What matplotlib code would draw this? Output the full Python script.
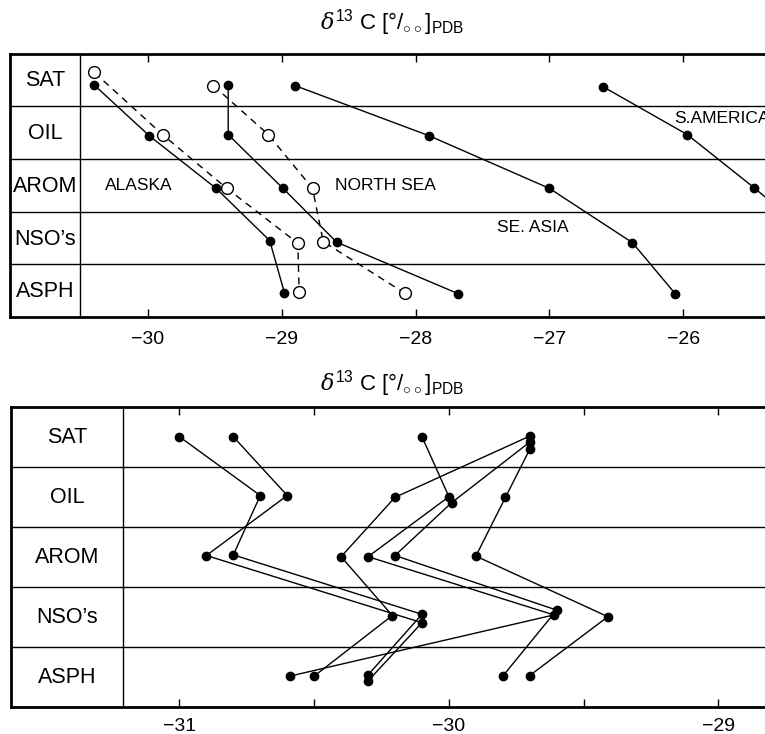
import matplotlib
matplotlib.use("Agg")
import matplotlib.pyplot as plt

plt.rcParams['font.family'] = ['Liberation Sans', 'DejaVu Sans']
plt.rcParams['mathtext.fontset'] = 'custom'
plt.rcParams['mathtext.rm'] = 'Liberation Sans'
plt.rcParams['mathtext.sf'] = 'Liberation Sans'
plt.rcParams['mathtext.it'] = 'DejaVu Serif:italic'

rows = ["SAT", "OIL", "AROM", "NSO’s", "ASPH"]

# ---------------- top panel data (x = d13C, y = row position, 0 = top) --------
alaska_fill_x = [-30.40, -29.99, -29.49, -29.09, -28.98]
alaska_fill_y = [0.60, 1.56, 2.56, 3.55, 4.54]
alaska_open_x = [-30.40, -29.89, -29.41, -28.88, -28.87]
alaska_open_y = [0.36, 1.54, 2.56, 3.60, 4.53]
nsea_fill_x = [-29.40, -29.40, -28.99, -28.59, -27.68]
nsea_fill_y = [0.60, 1.54, 2.56, 3.58, 4.56]
nsea_open_x = [-29.51, -29.10, -28.77, -28.69, -28.08]
nsea_open_y = [0.61, 1.54, 2.56, 3.57, 4.55]
seasia_x = [-28.90, -27.90, -27.00, -26.38, -26.06]
seasia_y = [0.61, 1.56, 2.56, 3.59, 4.56]
samerica_x = [-26.60, -25.97, -25.47, -25.00]
samerica_y = [0.63, 1.54, 2.55, 3.55]
top_ticks = [-30, -29, -28, -27, -26]
top_ticklabels = ["\u221230", "\u221229", "\u221228", "\u221227", "\u221226"]
top_labels = ["ALASKA", "NORTH SEA", "SE. ASIA", "S.AMERICA"]
top_label_x = [-30.32, -28.60, -27.39, -26.07]
top_label_y = [2.50, 2.50, 3.31, 1.24]

# ---------------- bottom panel data --------------------------------------------
bot_series_x = [
    [-31.00, -30.70, -30.80, -30.10, -30.30],
    [-30.80, -30.60, -30.90, -30.10, -30.30],
    [-29.70, -30.20, -30.40, -30.21, -30.50],
    [-30.10, -30.00, -30.30, -29.61, -30.59],
    [-29.70, -29.99, -30.20, -29.60, -29.80],
    [-29.70, -29.79, -29.90, -29.41, -29.70],
]
bot_series_y = [
    [0.50, 1.48, 2.47, 3.46, 4.47],
    [0.50, 1.48, 2.48, 3.60, 4.57],
    [0.49, 1.51, 2.50, 3.48, 4.49],
    [0.50, 1.50, 2.50, 3.47, 4.49],
    [0.59, 1.60, 2.48, 3.39, 4.49],
    [0.71, 1.51, 2.49, 3.50, 4.48],
]
bot_ticks = [-31, -30.5, -30, -29.5, -29]
bot_ticklabels = ["\u221231", "", "\u221230", "", "\u221229"]

title = r"$\delta^{\mathrm{13}}$ C [°/$_{\circ\circ}$]$_{\mathrm{PDB}}$"

W, H = 765, 734
fig = plt.figure(figsize=(W / 100, H / 100), dpi=100)


def setup(ax, xlim, col_x, ticks, ticklabels, pad):
    ax.set_xlim(*xlim)
    ax.set_ylim(5, 0)
    ax.set_yticks([])
    for s in ["top", "bottom", "left"]:
        ax.spines[s].set_linewidth(2.0)
    ax.spines["right"].set_visible(False)
    ax.set_xticks(ticks)
    ax.set_xticklabels(ticklabels, fontsize=14)
    ax.tick_params(axis="x", direction="in", top=True, bottom=True,
                   length=6, width=1.0, pad=pad)
    for r in range(1, 5):
        ax.axhline(r, color="black", lw=1.0, zorder=1)
    ax.axvline(col_x, color="black", lw=1.0, zorder=1)
    xc = (xlim[0] + col_x) / 2
    for i, name in enumerate(rows):
        ax.text(xc, i + 0.52, name, ha="center", va="center", fontsize=15.5)


# top axes
ax1 = fig.add_axes([10 / W, 1 - 317 / H, 1 - 10 / W, (317 - 53.5) / H])
setup(ax1, (-31.03, -25.39), -30.507, top_ticks, top_ticklabels, 10)
lk = dict(color="black", lw=1.0, zorder=3)
ax1.plot(alaska_open_x, alaska_open_y, ls=(0, (5, 4)), marker="o", ms=8.5,
         mfc="white", mec="black", mew=1.0, **lk)
ax1.plot(nsea_open_x, nsea_open_y, ls=(0, (5, 4)), marker="o", ms=8.5,
         mfc="white", mec="black", mew=1.0, **lk)
for xs, ys in [(alaska_fill_x, alaska_fill_y), (nsea_fill_x, nsea_fill_y),
               (seasia_x, seasia_y), (samerica_x, samerica_y)]:
    ax1.plot(xs, ys, ls="-", marker="o", ms=6, mfc="black", mec="black", **lk)
for t, x, y in zip(top_labels, top_label_x, top_label_y):
    ax1.text(x, y, t, ha="left", va="center", fontsize=12.5, clip_on=True)

# bottom axes
ax2 = fig.add_axes([11 / W, 1 - 706.7 / H, 1 - 11 / W, 300 / H])
setup(ax2, (-31.625, -28.827), -31.21, bot_ticks, bot_ticklabels, 8)
for xs, ys in zip(bot_series_x, bot_series_y):
    ax2.plot(xs, ys, ls="-", marker="o", ms=6, mfc="black", mec="black", **lk)

fig.text(392 / W, 1 - 23 / H, title, ha="center", va="center", fontsize=16)
fig.text(392 / W, 1 - 384 / H, title, ha="center", va="center", fontsize=16)

fig.savefig("out.png", dpi=100)
